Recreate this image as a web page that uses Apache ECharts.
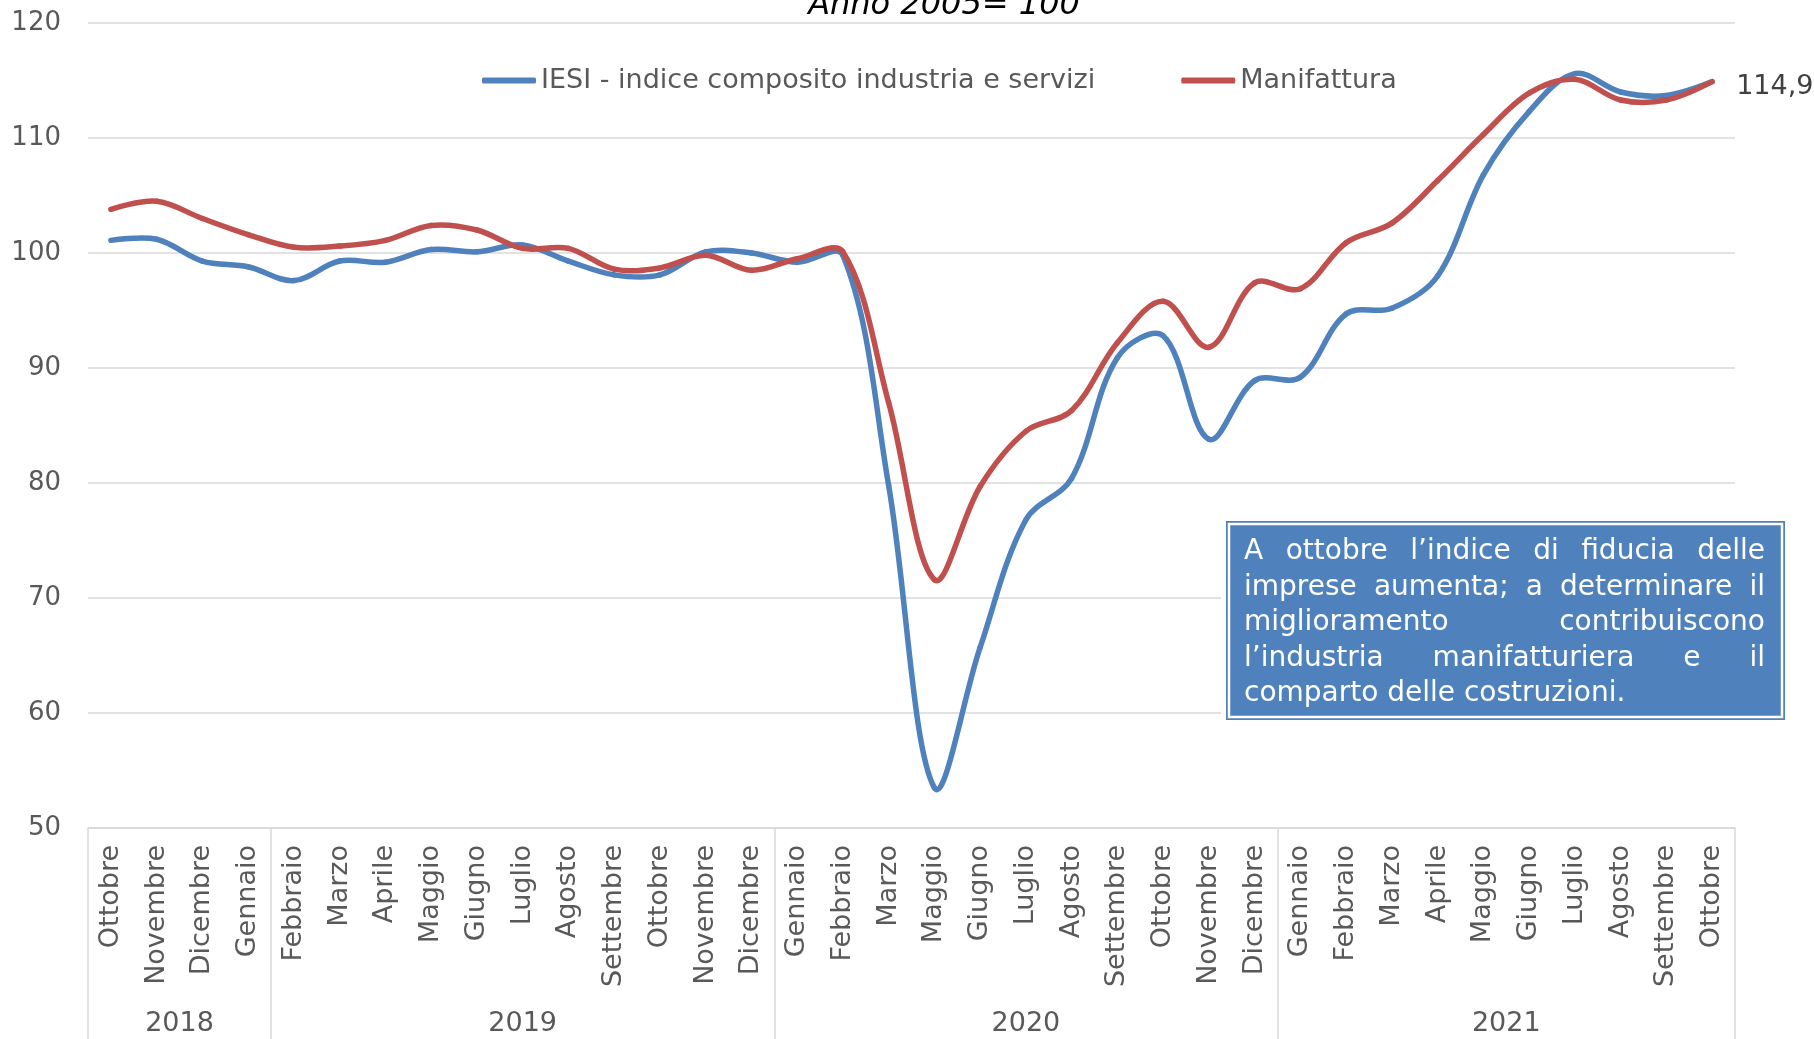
<!DOCTYPE html>
<html>
<head>
<meta charset="utf-8">
<title>IESI e Manifattura</title>
<script src="https://cdn.jsdelivr.net/npm/echarts@6/dist/echarts.min.js"></script>
<style>
html, body { margin: 0; padding: 0; background: #fff; }
#chart { width: 1814px; height: 1039px; }
</style>
</head>
<body>
<div id="chart"></div>
<script>
// mesi (aprile 2020 manca)
var months = ['Ottobre', 'Novembre', 'Dicembre', 'Gennaio',
    'Febbraio', 'Marzo', 'Aprile', 'Maggio', 'Giugno', 'Luglio', 'Agosto', 'Settembre', 'Ottobre', 'Novembre', 'Dicembre',
    'Gennaio', 'Febbraio', 'Marzo', 'Maggio', 'Giugno', 'Luglio', 'Agosto', 'Settembre', 'Ottobre', 'Novembre', 'Dicembre',
    'Gennaio', 'Febbraio', 'Marzo', 'Aprile', 'Maggio', 'Giugno', 'Luglio', 'Agosto', 'Settembre', 'Ottobre'];
var years = ['2018', '2019', '2020', '2021'];
var yearSizes = [4, 11, 11, 10];

var iesi = [101.1, 101.2, 99.3, 98.8, 97.6, 99.3, 99.2, 100.3, 100.1, 100.7, 99.3, 98.1, 98.1, 100.1, 100.0,
    99.2, 99.8, 79.8, 53.5, 65.7, 76.8, 80.4, 90.9, 92.8, 83.8, 88.9,
    89.2, 94.7, 95.2, 98.0, 106.8, 112.3, 115.6, 114.0, 113.7, 114.9];
var manifattura = [103.8, 104.5, 103.0, 101.6, 100.5, 100.6, 101.1, 102.4, 102.0, 100.4, 100.4, 98.6, 98.7, 99.8, 98.5,
    99.5, 100.1, 87.0, 71.6, 79.7, 84.5, 86.3, 92.2, 95.8, 91.8, 97.4,
    96.9, 100.9, 102.6, 106.3, 110.3, 113.9, 115.1, 113.3, 113.3, 114.9];

var yMin = 50, yMax = 120, yStep = 10;

var noteLines = [
    'A ottobre l\u2019indice di fiducia delle',
    'imprese aumenta; a determinare il',
    'miglioramento contribuiscono',
    'l\u2019industria manifatturiera e il',
    'comparto delle costruzioni.'
];

// confini e centri dei gruppi anno
var yearStarts = [];
var yearCenters = [];
var acc = 0;
for (var i = 0; i < yearSizes.length; i++) {
    yearStarts.push(acc);
    yearCenters.push(acc + yearSizes[i] / 2);
    acc += yearSizes[i];
}

var font = '"DejaVu Sans", Verdana, sans-serif';
var grey = '#595959';
var gridGrey = '#d9d9d9';
var blue = '#4f81bd';
var red = '#c0504d';
var lineW = 5.5;
var smooth = 0.35;

// curva "smussata" tipo Excel: segmento dal punto i-1 al punto i
function pt(api, values, j) {
    j = Math.max(0, Math.min(values.length - 1, j));
    return api.coord([j, values[j]]);
}
function ctrl(p0, p1, p2) {
    // punti di controllo entrante/uscente per p1
    var vx = p2[0] - p0[0], vy = p2[1] - p0[1];
    var d0 = Math.sqrt((p1[0] - p0[0]) * (p1[0] - p0[0]) + (p1[1] - p0[1]) * (p1[1] - p0[1]));
    var d1 = Math.sqrt((p2[0] - p1[0]) * (p2[0] - p1[0]) + (p2[1] - p1[1]) * (p2[1] - p1[1]));
    if (d0 + d1 === 0) return [p1, p1];
    var r = d1 / (d0 + d1);
    return [
        [p1[0] - vx * smooth * (1 - r), p1[1] - vy * smooth * (1 - r)],
        [p1[0] + vx * smooth * r, p1[1] + vy * smooth * r]
    ];
}
function makeRender(values, color, withLabel) {
    var n = values.length;
    return function (params, api) {
        var i = params.dataIndex;
        var children = [];
        if (i > 0) {
            var a = pt(api, values, i - 1);
            var b = pt(api, values, i);
            var cpA = (i - 1 === 0) ? a : ctrl(pt(api, values, i - 2), a, b)[1];
            var cpB = (i === n - 1) ? b : ctrl(a, b, pt(api, values, i + 1))[0];
            children.push({
                type: 'bezierCurve',
                shape: { x1: a[0], y1: a[1], cpx1: cpA[0], cpy1: cpA[1], cpx2: cpB[0], cpy2: cpB[1], x2: b[0], y2: b[1] },
                style: { fill: null, stroke: color, lineWidth: lineW, lineCap: 'round', lineJoin: 'round' }
            });
        }
        if (withLabel && i === n - 1) {
            var e = pt(api, values, i);
            children.push({
                type: 'text',
                style: {
                    text: values[i].toFixed(1).replace('.', ','),
                    x: e[0] + 24, y: e[1] + 5,
                    align: 'left', verticalAlign: 'middle',
                    font: '27px ' + font, fill: '#404040'
                }
            });
        }
        return { type: 'group', children: children };
    };
}
function toPairs(values) {
    var out = [];
    for (var j = 0; j < values.length; j++) out.push([j, values[j]]);
    return out;
}

// riquadro di testo giustificato
var box = { x: 1226, y: 521, w: 559, h: 199 };
var noteSize = 28;
var noteLeft = box.x + 18;
var noteWidth = 521;
var noteTop = 552;
var noteStep = 35.5;

var ctx = document.createElement('canvas').getContext('2d');
ctx.font = noteSize + 'px "DejaVu Sans"';

var noteEls = [
    { type: 'rect', z: 100, shape: { x: box.x - 5, y: box.y - 5, width: box.w + 10, height: box.h + 10 }, style: { fill: '#fff' } },
    { type: 'rect', z: 101, shape: { x: box.x, y: box.y, width: box.w, height: box.h }, style: { fill: blue } },
    { type: 'rect', z: 102, shape: { x: box.x + 3, y: box.y + 3, width: box.w - 6, height: box.h - 6 }, style: { fill: null, stroke: '#fff', lineWidth: 2.5 } }
];
for (var l = 0; l < noteLines.length; l++) {
    var words = noteLines[l].split(' ');
    var ws = [];
    var sum = 0;
    for (var k = 0; k < words.length; k++) {
        ws.push(ctx.measureText(words[k]).width);
        sum += ws[k];
    }
    var gap = ctx.measureText(' ').width;
    if (l < noteLines.length - 1 && words.length > 1) {
        gap = (noteWidth - sum) / (words.length - 1);
    }
    var cx = noteLeft;
    for (var k = 0; k < words.length; k++) {
        noteEls.push({
            type: 'text',
            z: 103,
            style: {
                text: words[k], x: cx, y: noteTop + l * noteStep,
                fill: '#fff', font: noteSize + 'px ' + font,
                verticalAlign: 'middle', align: 'left'
            }
        });
        cx += ws[k] + gap;
    }
}

var myChart = echarts.init(document.getElementById('chart'));
var option = {
    backgroundColor: '#fff',
    animation: false,
    legend: {
        left: 477,
        top: 62,
        itemWidth: 54,
        itemHeight: 6,
        itemGap: 86,
        icon: 'roundRect',
        textStyle: { fontFamily: font, fontSize: 27, color: grey },
        data: ['IESI - indice composito industria e servizi', 'Manifattura']
    },
    grid: {
        left: 88,
        right: 79,
        top: 23,
        bottom: 211,
        outerBoundsMode: 'none'
    },
    xAxis: [
        {
            type: 'category',
            data: months,
            boundaryGap: true,
            axisLine: { lineStyle: { color: gridGrey, width: 1.5 } },
            axisTick: {
                show: true,
                length: 212,
                interval: function (index) { return yearStarts.indexOf(index) >= 0; },
                lineStyle: { color: gridGrey, width: 1.5 }
            },
            axisLabel: {
                interval: 0,
                rotate: 90,
                margin: 17,
                fontFamily: font,
                fontSize: 27,
                color: grey
            }
        },
        {
            type: 'value',
            position: 'bottom',
            min: 0,
            max: months.length,
            axisLine: { show: false },
            axisTick: { show: false },
            splitLine: { show: false },
            axisLabel: {
                customValues: yearCenters,
                margin: 182,
                fontFamily: font,
                fontSize: 27,
                color: grey,
                formatter: function (v) {
                    var idx = yearCenters.indexOf(v);
                    return idx >= 0 ? years[idx] : '';
                }
            }
        }
    ],
    yAxis: {
        type: 'value',
        min: yMin,
        max: yMax,
        interval: yStep,
        axisLine: { show: false },
        axisTick: { show: false },
        splitLine: { lineStyle: { color: gridGrey, width: 1.5 } },
        axisLabel: { margin: 27, fontFamily: font, fontSize: 26, color: grey }
    },
    series: [
        {
            name: 'IESI - indice composito industria e servizi',
            type: 'custom',
            data: toPairs(iesi),
            encode: { x: 0, y: 1 },
            z: 3,
            itemStyle: { color: blue },
            renderItem: makeRender(iesi, blue, true)
        },
        {
            name: 'Manifattura',
            type: 'custom',
            data: toPairs(manifattura),
            encode: { x: 0, y: 1 },
            z: 4,
            itemStyle: { color: red },
            renderItem: makeRender(manifattura, red, false)
        }
    ],
    graphic: [
        {
            type: 'text',
            z: 100,
            style: {
                text: 'Anno 2005= 100',
                x: 944, y: 22,
                align: 'center', verticalAlign: 'bottom',
                font: 'italic 32px ' + font,
                fill: '#000'
            }
        },
        { type: 'group', z: 100, children: noteEls }
    ]
};
myChart.setOption(option);
</script>
</body>
</html>
